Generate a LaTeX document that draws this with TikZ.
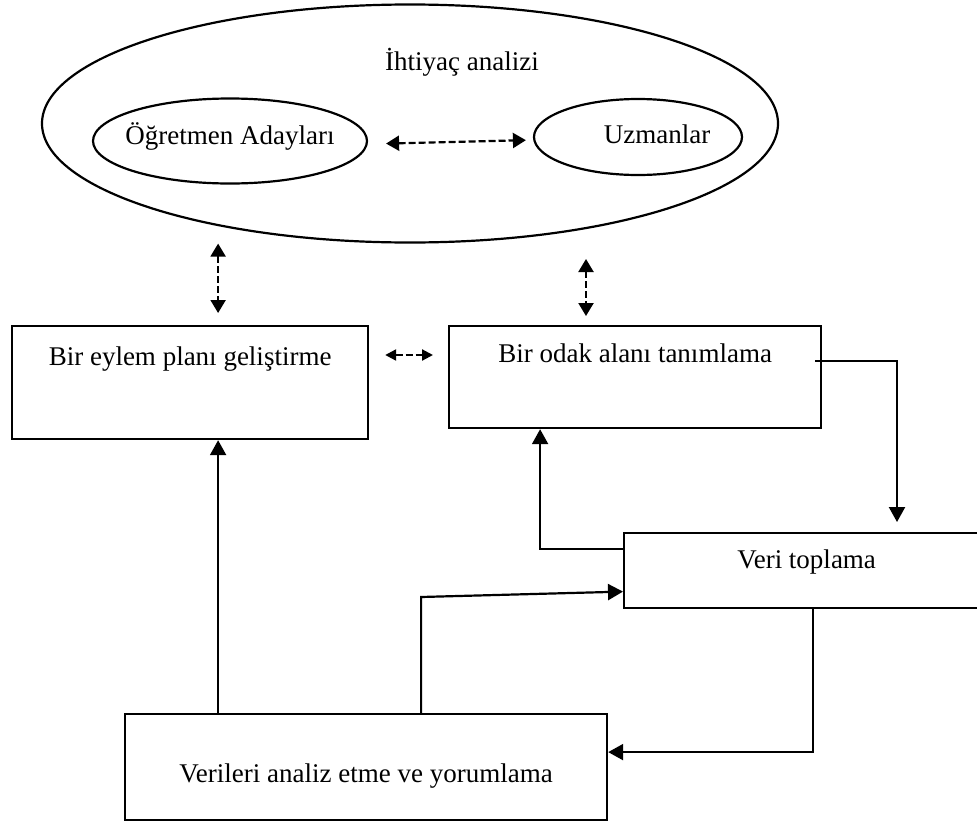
\documentclass[tikz,border=0pt]{standalone}
\usepackage{fontspec}
\setmainfont{Liberation Serif}
\usetikzlibrary{shapes.geometric,arrows.meta,calc}

\tikzset{
	txt/.style={font=\fontsize{27}{32}\selectfont, inner sep=0pt},
	stagebox/.style={draw, line width=2.2pt, inner sep=0pt, anchor=north west, font=\fontsize{27}{32}\selectfont},
	oval/.style={draw, ellipse, line width=2.2pt, inner sep=0pt},
	arr/.style={line width=2.2pt, -{Triangle[length=15pt,width=16pt]}},
	twoway/.style={line width=2.2pt, dash pattern=on 7pt off 3pt, {Triangle[length=13pt,width=15pt]}-{Triangle[length=13pt,width=15pt]}}
}

\begin{document}
\begin{tikzpicture}[x=1pt,y=-1pt]
	\useasboundingbox (0,0) rectangle (977,822);

	\node[oval, minimum width=736, minimum height=238] (needs) at (410,123.5) {};
	\node[txt] (needstxt) at (462,62) {İhtiyaç analizi};
	\node[oval, minimum width=274, minimum height=85] (teach) at (230,141) {};
	\node[txt] (teachtxt) at (230,136) {Öğretmen Adayları};
	\node[oval, minimum width=208, minimum height=76] (expert) at (638,137) {};
	\node[txt] (experttxt) at (657,134) {Uzmanlar};

	\node[stagebox, minimum width=356, text height=39, text depth=74] (plan) at (11,325) {Bir eylem planı geliştirme};
	\node[stagebox, minimum width=372, text height=36, text depth=66] (focus) at (448,325) {Bir odak alanı tanımlama};
	\node[stagebox, minimum width=365, text height=35, text depth=40] (veri) at (623,532) {Veri toplama};
	\node[stagebox, minimum width=482, text height=68, text depth=38] (report) at (124,713) {Verileri analiz etme ve yorumlama};

	\coordinate (p1) at ([xshift=28pt]plan.north);
	\coordinate (p2) at ([xshift=28pt]plan.south);
	\coordinate (f1) at (586,259);
	\coordinate (vtop) at (897,522);

	\draw[twoway, shorten <=18pt, shorten >=7pt] ([yshift=-3pt]teach.east) -- ([yshift=-3pt]expert.west);
	\draw[twoway, shorten >=12pt] (needs.south -| p1) -- (p1);
	\draw[twoway, shorten >=9pt] (f1) -- (focus.north -| f1);
	\draw[twoway, shorten <=16pt, shorten >=15pt, {Triangle[length=11pt,width=11pt]}-{Triangle[length=11pt,width=11pt]}] ($(plan.north east)+(0,30)$) -- ($(focus.north west)+(0,30)$);

	\draw[arr] ([shift={(-7,-16)}]focus.east) -| (vtop);
	\draw[arr] ([yshift=22pt]veri.west) -| ([xshift=-95pt]focus.south);
	\draw[arr] ([xshift=55pt]report.north) -- ++(0,-116) -- ([yshift=-21pt]veri.west);
	\draw[arr] ([xshift=6pt]veri.south) |- ([yshift=15pt]report.east);
	\draw[arr] (report.north -| p2) -- (p2);
\end{tikzpicture}
\end{document}
